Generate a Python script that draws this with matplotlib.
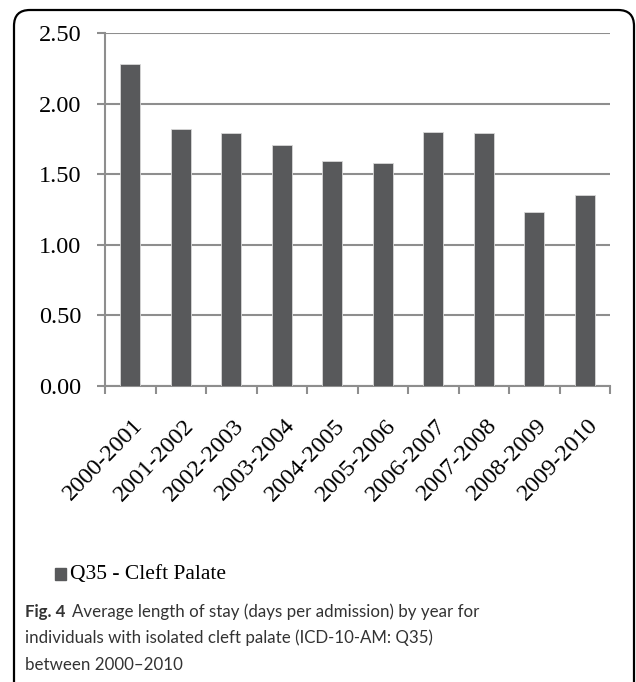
import matplotlib.pyplot as plt
from matplotlib.patches import FancyBboxPatch, Rectangle
from matplotlib.transforms import ScaledTranslation

# data
periods = ["2000-2001", "2001-2002", "2002-2003", "2003-2004", "2004-2005",
           "2005-2006", "2006-2007", "2007-2008", "2008-2009", "2009-2010"]
avg_stay = [2.28, 1.82, 1.79, 1.71, 1.59, 1.58, 1.80, 1.79, 1.23, 1.35]
y_ticks = [0.0, 0.5, 1.0, 1.5, 2.0, 2.5]

BAR = "#58595b"
GRID = "#8e8e8e"
SERIF = "Liberation Serif"
SANS = "Lato"
CAP_SIZE = 12.2

fig = plt.figure(figsize=(6.36, 6.82), dpi=100)

# rounded frame around chart (open at the bottom)
frame = FancyBboxPatch((14 / 636, -0.2), 620 / 636, 1.2 - 10 / 682,
                       boxstyle="round,pad=0,rounding_size=0.025",
                       transform=fig.transFigure, fill=False,
                       edgecolor="black", linewidth=1.6, mutation_aspect=636 / 682)
fig.patches.append(frame)

ax = fig.add_axes([105 / 636, 1 - 386 / 682, 505 / 636, 353 / 682])
x = list(range(len(periods)))
ax.bar(x, avg_stay, width=0.4, color=BAR, edgecolor="#d8d8d8", linewidth=0.6, zorder=3)

ax.set_xlim(-0.5, len(periods) - 0.5)
ax.set_ylim(0, 2.5)
ax.set_yticks(y_ticks)
ax.set_yticklabels([f"{v:.2f}" for v in y_ticks], fontfamily=SERIF, fontsize=17.5)
ax.grid(axis="y", color=GRID, linewidth=1.5, zorder=0)
ax.set_axisbelow(True)

ax.set_xticks([i - 0.5 for i in range(len(periods) + 1)])
ax.set_xticklabels([])
ax.tick_params(axis="x", length=6, color=GRID, width=1.5)
ax.tick_params(axis="y", length=6, color=GRID, width=1.5, pad=11)

# rotated category labels, top-right corner just under each bar
off = ax.transData + ScaledTranslation(2 / 100, -29 / 100, fig.dpi_scale_trans)
for i, lab in zip(x, periods):
    ax.text(i, 0, lab, transform=off, rotation=46, rotation_mode="anchor",
            ha="right", va="top", fontfamily=SERIF, fontsize=17.5)

for s in ["top", "right"]:
    ax.spines[s].set_visible(False)
for s in ["left", "bottom"]:
    ax.spines[s].set_color(GRID)
    ax.spines[s].set_linewidth(1.5)

# legend drawn by hand to match the placement under the axis labels
fig.patches.append(Rectangle((55 / 636, 1 - 580 / 682), 11 / 636, 12 / 682,
                             transform=fig.transFigure, color=BAR))
fig.text(70 / 636, 1 - 574 / 682, "Q35 - Cleft Palate", fontfamily=SERIF,
         fontsize=15.5, va="center", ha="left")

# caption
cap_y = [612, 638, 665]
fig.text(25 / 636, 1 - cap_y[0] / 682, "Fig. 4", fontfamily=SANS, fontweight="bold",
         fontsize=CAP_SIZE, va="center", color="#333333")
fig.text(72 / 636, 1 - cap_y[0] / 682,
         "Average length of stay (days per admission) by year for",
         fontfamily=SANS, fontsize=CAP_SIZE, va="center", color="#333333")
fig.text(25 / 636, 1 - cap_y[1] / 682,
         "individuals with isolated cleft palate (ICD-10-AM: Q35)",
         fontfamily=SANS, fontsize=CAP_SIZE, va="center", color="#333333")
fig.text(25 / 636, 1 - cap_y[2] / 682, "between 2000\u20132010",
         fontfamily=SANS, fontsize=CAP_SIZE, va="center", color="#333333")

fig.savefig("out.png", dpi=100)
